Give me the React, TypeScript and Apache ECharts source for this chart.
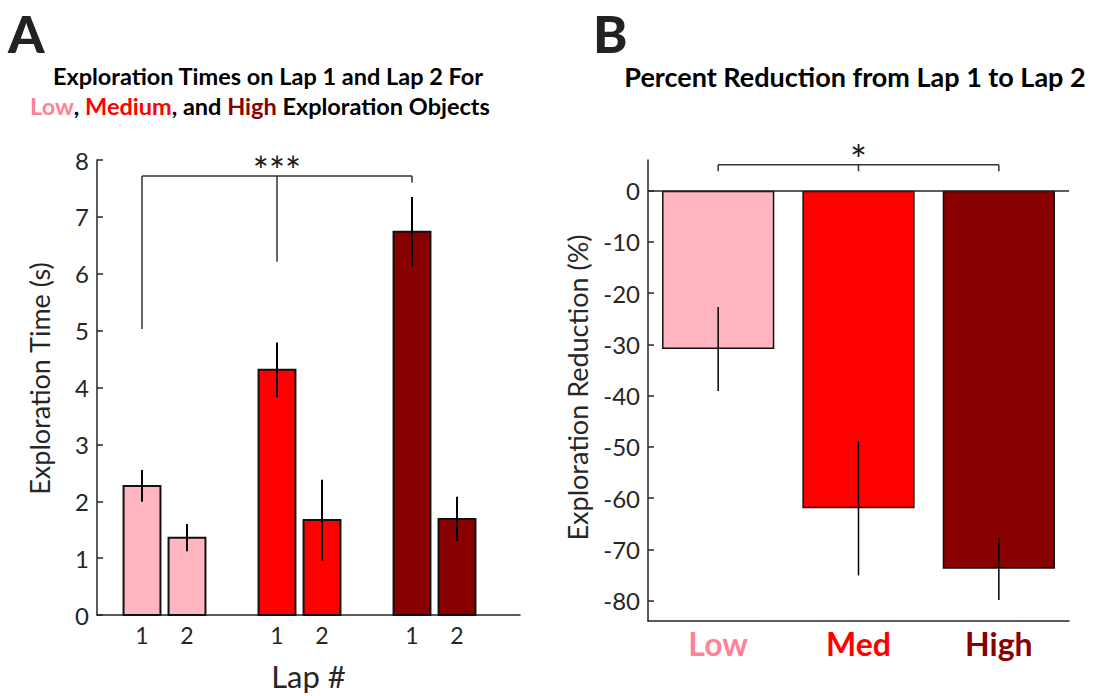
import React, { useEffect, useRef } from "react";
import * as echarts from "echarts";

// ---- Panel A data ----
const lapPositions = [1, 2, 4, 5, 7, 8];
const lapLabels = ["1", "2", "1", "2", "1", "2"];
const lapMeans = [2.27, 1.36, 4.31, 1.67, 6.74, 1.69];
const lapErrors = [0.28, 0.24, 0.48, 0.71, 0.61, 0.39];
const lapGroupIndex = [0, 0, 1, 1, 2, 2];
const yTicksA = [0, 1, 2, 3, 4, 5, 6, 7, 8];
const bracketAPositions = [1, 4, 7];
const bracketATop = 7.72;
const bracketALegEnds = [5.03, 6.21, 7.6];
const bracketALabel = "***";

// ---- Panel B data ----
const groups = ["Low", "Med", "High"];
const reductionMeans = [-30.9, -62.0, -73.8];
const reductionErrors = [8.2, 13.1, 6.1];
const yTicksB = [0, -10, -20, -30, -40, -50, -60, -70, -80];
const bracketBPositions = [0, 1, 2];
const bracketBTop = 5.07;
const bracketBLegEnds = [3.8, 3.8, 3.8];
const bracketBLabel = "*";

// ---- styles ----
const barColors = ["#FFB6C1", "#FF0000", "#880000"];
const textColors = ["#FF8296", "#FF0000", "#880000"];
const FONT = "Lato";
const AXIS = "#262626";

export default function App() {
  const ref = useRef<HTMLDivElement>(null);
  useEffect(() => {
    if (!ref.current) return;
    const chart = echarts.init(ref.current, null, { renderer: "svg" });

    const bracketRender = (positions: number[], top: number, ends: number[], label: string, labelOffset: number, fontSize: number) =>
      (params: any, api: any) => {
        if (params.dataIndex !== 0) return null;
        const children: any[] = [];
        const left = api.coord([positions[0], top]);
        const right = api.coord([positions[positions.length - 1], top]);
        children.push({
          type: "line",
          shape: { x1: left[0], y1: left[1], x2: right[0], y2: right[1] },
          style: { stroke: "#333", lineWidth: 1.5 },
        });
        positions.forEach((p, i) => {
          const a = api.coord([p, top]);
          const b = api.coord([p, ends[i]]);
          children.push({
            type: "line",
            shape: { x1: a[0], y1: a[1], x2: b[0], y2: b[1] },
            style: { stroke: "#333", lineWidth: 1.5 },
          });
        });
        const mid = api.coord([positions[1], top]);
        children.push({
          type: "text",
          x: mid[0],
          y: mid[1] + labelOffset,
          style: {
            text: label,
            fill: "#1a1a1a",
            font: `${fontSize}px ${FONT}`,
            align: "center",
            verticalAlign: "middle",
          },
        });
        return { type: "group", children };
      };

    const option: any = {
      animation: false,
      backgroundColor: "#ffffff",
      textStyle: { fontFamily: FONT },
      grid: [
        { left: 97, top: 160, width: 423, height: 460 },
        { left: 648, top: 160, width: 421, height: 461 },
      ],
      xAxis: [
        {
          gridIndex: 0,
          type: "value",
          min: 0,
          max: 9.4,
          interval: 1,
          splitLine: { show: false },
          axisTick: { show: false },
          axisLine: { lineStyle: { color: AXIS, width: 1.5 } },
          axisLabel: {
            customValues: lapPositions,
            formatter: (v: number) => lapLabels[lapPositions.indexOf(v)] ?? "",
            color: AXIS,
            fontSize: 23,
            fontFamily: FONT,
            margin: 8,
          },
          name: "Lap #",
          nameLocation: "middle",
          nameGap: 45,
          nameTextStyle: { color: AXIS, fontSize: 31, fontFamily: FONT },
        },
        {
          gridIndex: 1,
          type: "category",
          data: groups,
          boundaryGap: true,
          axisTick: { show: false },
          axisLine: { onZero: false, lineStyle: { color: AXIS, width: 1.5 } },
          axisLabel: {
            margin: 6,
            formatter: (v: string) => `{${v}|${v}}`,
            rich: Object.fromEntries(
              groups.map((g, i) => [
                g,
                { color: textColors[i], fontSize: 32, fontWeight: "bold", fontFamily: FONT },
              ])
            ),
          },
        },
      ],
      yAxis: [
        {
          gridIndex: 0,
          type: "value",
          min: 0,
          max: 8,
          interval: 1,
          splitLine: { show: false },
          axisLine: { show: true, lineStyle: { color: AXIS, width: 1.5 } },
          axisTick: { show: true, inside: true, length: 6, lineStyle: { color: AXIS, width: 1.5 } },
          axisLabel: {
            customValues: yTicksA,
            color: AXIS,
            fontSize: 24,
            fontFamily: FONT,
            margin: 8,
          },
          name: "Exploration Time (s)",
          nameLocation: "middle",
          nameGap: 44,
          nameTextStyle: { color: AXIS, fontSize: 27, fontFamily: FONT, padding: [0, 0, 0, 18] },
        },
        {
          gridIndex: 1,
          type: "value",
          min: -84,
          max: 6,
          splitLine: { show: false },
          axisLine: { show: true, onZero: false, lineStyle: { color: AXIS, width: 1.5 } },
          axisTick: {
            show: true,
            inside: true,
            length: 6,
            customValues: yTicksB,
            lineStyle: { color: AXIS, width: 1.5 },
          },
          axisLabel: {
            customValues: yTicksB,
            color: AXIS,
            fontSize: 24,
            fontFamily: FONT,
            margin: 8,
          },
          name: "Exploration Reduction (%)",
          nameLocation: "middle",
          nameGap: 57,
          nameTextStyle: { color: AXIS, fontSize: 27, fontFamily: FONT, padding: [0, 0, 0, 6] },
        },
      ],
      series: [
        // Panel A bars
        {
          type: "custom",
          xAxisIndex: 0,
          yAxisIndex: 0,
          data: lapPositions.map((x, i) => [x, lapMeans[i], lapErrors[i], lapGroupIndex[i]]),
          renderItem: (params: any, api: any) => {
            const x = api.value(0);
            const y = api.value(1);
            const g = api.value(3);
            const p1 = api.coord([x - 0.41, y]);
            const p2 = api.coord([x + 0.41, 0]);
            return {
              type: "rect",
              shape: { x: p1[0], y: p1[1], width: p2[0] - p1[0], height: p2[1] - p1[1] },
              style: { fill: barColors[g], stroke: "#111", lineWidth: 2 },
            };
          },
          z: 2,
        },
        // Panel A error bars
        {
          type: "custom",
          xAxisIndex: 0,
          yAxisIndex: 0,
          data: lapPositions.map((x, i) => [x, lapMeans[i], lapErrors[i]]),
          renderItem: (params: any, api: any) => {
            const x = api.value(0);
            const y = api.value(1);
            const e = api.value(2);
            const a = api.coord([x, y + e]);
            const b = api.coord([x, y - e]);
            return {
              type: "line",
              shape: { x1: a[0], y1: a[1], x2: b[0], y2: b[1] },
              style: { stroke: "#000", lineWidth: 2 },
            };
          },
          z: 3,
        },
        // Panel A significance bracket
        {
          type: "custom",
          xAxisIndex: 0,
          yAxisIndex: 0,
          clip: false,
          data: [[bracketAPositions[1], bracketATop]],
          renderItem: bracketRender(bracketAPositions, bracketATop, bracketALegEnds, bracketALabel, -6, 38),
          z: 4,
        },
        // Panel B bars
        {
          type: "bar",
          xAxisIndex: 1,
          yAxisIndex: 1,
          barWidth: "80%",
          data: reductionMeans.map((v, i) => ({
            value: v,
            itemStyle: { color: barColors[i], borderColor: "#111", borderWidth: 1.5 },
          })),
          markLine: {
            silent: true,
            symbol: "none",
            label: { show: false },
            lineStyle: { color: AXIS, width: 1.5, type: "solid" },
            data: [{ yAxis: 0 }],
          },
          z: 2,
        },
        // Panel B error bars
        {
          type: "custom",
          xAxisIndex: 1,
          yAxisIndex: 1,
          data: reductionMeans.map((v, i) => [i, v, reductionErrors[i]]),
          renderItem: (params: any, api: any) => {
            const x = api.value(0);
            const y = api.value(1);
            const e = api.value(2);
            const a = api.coord([x, y + e]);
            const b = api.coord([x, y - e]);
            return {
              type: "line",
              shape: { x1: a[0], y1: a[1], x2: b[0], y2: b[1] },
              style: { stroke: "#000", lineWidth: 1.5 },
            };
          },
          z: 3,
        },
        // Panel B significance bracket
        {
          type: "custom",
          xAxisIndex: 1,
          yAxisIndex: 1,
          clip: false,
          data: [[bracketBPositions[1], bracketBTop]],
          renderItem: bracketRender(bracketBPositions, bracketBTop, bracketBLegEnds, bracketBLabel, -5, 40),
          z: 4,
        },
      ],
      graphic: [
        {
          type: "text",
          x: 8,
          y: 33,
          style: { text: "A", font: `900 52px ${FONT}`, lineHeight: 52, fill: "#222", verticalAlign: "middle" },
        },
        {
          type: "text",
          x: 593,
          y: 33,
          style: { text: "B", font: `900 52px ${FONT}`, lineHeight: 52, fill: "#222", verticalAlign: "middle" },
        },
        {
          type: "text",
          x: 268,
          y: 76,
          style: {
            text: "Exploration Times on Lap 1 and Lap 2 For",
            font: `bold 23.5px ${FONT}`,
            fill: "#000",
            align: "center",
            verticalAlign: "middle",
          },
        },
        {
          type: "text",
          x: 260,
          y: 106,
          style: {
            text: "{low|Low}{k|, }{med|Medium}{k|, and }{high|High}{k| Exploration Objects}",
            align: "center",
            verticalAlign: "middle",
            rich: {
              low: { fill: textColors[0], font: `bold 23.5px ${FONT}` },
              med: { fill: textColors[1], font: `bold 23.5px ${FONT}` },
              high: { fill: textColors[2], font: `bold 23.5px ${FONT}` },
              k: { fill: "#000", font: `bold 23.5px ${FONT}` },
            },
          },
        },
        {
          type: "text",
          x: 855,
          y: 76,
          style: {
            text: "Percent Reduction from Lap 1 to Lap 2",
            font: `bold 27px ${FONT}`,
            fill: "#000",
            align: "center",
            verticalAlign: "middle",
          },
        },
      ],
    };

    chart.setOption(option);
    return () => chart.dispose();
  }, []);

  return (
    <div
      ref={ref}
      style={{ position: "fixed", left: 0, top: 0, width: 1096, height: 696, background: "#fff" }}
    />
  );
}
